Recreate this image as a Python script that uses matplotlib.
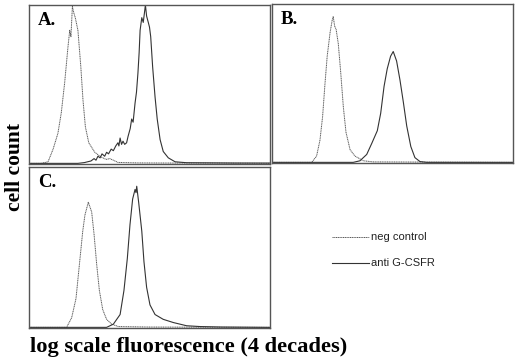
import matplotlib
matplotlib.use("Agg")
import matplotlib.pyplot as plt
from matplotlib.lines import Line2D

# histogram traces: x = % of axis width (log channel), y = fraction of panel height
a_neg_x = [0, 5.1, 7.9, 10.0, 12.0, 13.4, 14.8, 16.2, 16.9, 17.4, 18.0, 18.6, 19.2, 20.3, 21.5, 22.4,
           23.4, 24.8, 27.3, 29.9, 32.0, 33.5, 35.0, 36.9, 45, 60, 80, 100]
a_neg_y = [0, 0, 0.01, 0.09, 0.19, 0.32, 0.51, 0.74, 0.84, 0.80, 0.99, 0.95, 0.92, 0.84, 0.61, 0.40,
           0.23, 0.13, 0.07, 0.04, 0.025, 0.03, 0.02, 0.006, 0.003, 0.002, 0.002, 0.0]
a_anti_x = [0, 20.3, 23.0, 25.7, 27.0, 27.8, 28.6, 29.5, 30.3, 31.4, 32.2, 33.0, 34.1, 35.0, 36.0,
            36.9, 37.3, 37.8, 38.4, 39.0, 39.7, 40.5, 41.1, 42.0, 42.6, 43.2, 44.0, 44.6, 45.2, 45.7,
            46.1, 46.8, 47.4, 47.9, 48.3, 48.8, 49.5, 50.0, 50.5, 51.3, 52.3, 53.2, 54.4, 55.7, 57.8,
            60.6, 65.4, 75, 85, 100]
a_anti_y = [0, 0, 0.005, 0.015, 0.03, 0.02, 0.045, 0.035, 0.06, 0.045, 0.07, 0.06, 0.09, 0.08, 0.11,
            0.13, 0.11, 0.16, 0.12, 0.14, 0.12, 0.13, 0.17, 0.22, 0.28, 0.26, 0.38, 0.45, 0.57, 0.70,
            0.84, 0.92, 0.89, 0.95, 1.0, 0.93, 0.89, 0.86, 0.80, 0.61, 0.42, 0.28, 0.15, 0.075, 0.035,
            0.01, 0.004, 0.003, 0.002, 0.002]

b_neg_x = [0, 16.5, 18.5, 19.9, 21.0, 22.0, 22.9, 24.1, 25.0, 25.4, 26.0, 26.6, 27.5, 28.5, 29.6,
           30.7, 32.4, 34.4, 37.9, 42.0, 60, 100]
b_neg_y = [0, 0, 0.04, 0.14, 0.29, 0.50, 0.67, 0.82, 0.90, 0.92, 0.86, 0.84, 0.75, 0.57, 0.35,
           0.19, 0.08, 0.04, 0.01, 0.003, 0.002, 0.0]
b_anti_x = [0, 33.7, 36.5, 39.3, 41.4, 43.7, 45.1, 46.5, 47.8, 49.2, 50.3, 51.7, 53.1, 54.5, 55.9,
            57.6, 59.3, 61.4, 64.2, 100]
b_anti_y = [0, 0, 0.01, 0.05, 0.12, 0.20, 0.31, 0.48, 0.59, 0.67, 0.70, 0.64, 0.52, 0.38, 0.23,
            0.10, 0.03, 0.005, 0.0, 0.0]

c_neg_x = [0, 15.6, 17.7, 19.5, 20.9, 22.3, 23.2, 24.6, 26.0, 27.0, 28.1, 29.2, 30.6, 32.2, 34.3,
           37.1, 50, 100]
c_neg_y = [0, 0, 0.06, 0.18, 0.39, 0.60, 0.70, 0.78, 0.72, 0.58, 0.39, 0.23, 0.11, 0.05, 0.02,
           0.005, 0.002, 0.0]
c_anti_x = [0, 32.2, 35.0, 37.8, 39.4, 40.8, 41.9, 43.0, 44.0, 44.4, 44.7, 45.1, 45.5, 46.8, 47.7,
            48.8, 50.2, 52.3, 55.7, 59.9, 65.4, 71, 80, 100]
c_anti_y = [0, 0, 0.02, 0.08, 0.23, 0.43, 0.64, 0.80, 0.86, 0.84, 0.88, 0.83, 0.78, 0.60, 0.41,
            0.25, 0.14, 0.08, 0.05, 0.03, 0.01, 0.005, 0.002, 0.0]

panel_labels = ["A.", "B.", "C."]
legend_labels = ["neg control", "anti G-CSFR"]
xlabel = "log scale fluorescence (4 decades)"
ylabel = "cell count"

W, H = 520, 362
fig = plt.figure(figsize=(W / 100, H / 100), dpi=100, facecolor="w")

def px_axes(left, top, right, bottom):
    return fig.add_axes([left / W, 1 - bottom / H, (right - left) / W, (bottom - top) / H])

neg_style = dict(color="#5a5a5a", lw=0.7, ls=(0, (1.2, 0.6)))
anti_style = dict(color="#333333", lw=0.8, ls="-")
serif = ["Liberation Serif", "DejaVu Serif"]

axes = [px_axes(29, 5, 270, 164), px_axes(272, 4, 513, 163), px_axes(29, 167, 270, 328)]
traces = [(a_neg_x, a_neg_y, a_anti_x, a_anti_y),
          (b_neg_x, b_neg_y, b_anti_x, b_anti_y),
          (c_neg_x, c_neg_y, c_anti_x, c_anti_y)]

for ax, (nx, ny, tx, ty), lab in zip(axes, traces, panel_labels):
    ax.plot(nx, ny, **neg_style)
    ax.plot(tx, ty, **anti_style)
    ax.set_xlim(0, 100)
    ax.set_ylim(-0.004, 1.0)
    ax.set_xticks([])
    ax.set_yticks([])
    for s in ax.spines.values():
        s.set_color("#555555")
        s.set_linewidth(1.0)
    ax.text(0.037, 0.955, lab, transform=ax.transAxes, ha="left", va="top",
            fontsize=13.5, fontweight="bold", family=serif)

fig.text(30 / W, 1 - 352 / H, xlabel, ha="left", va="baseline",
         fontsize=16.2, fontweight="bold", family=serif)
fig.text(15 / W, 1 - 167 / H, ylabel, ha="center", va="center", rotation=90,
         fontsize=15.5, fontweight="bold", family=serif)

# legend drawn by hand, sitting in the empty lower-right corner
for lab, y, st in zip(legend_labels, [237, 263], [neg_style, anti_style]):
    fig.add_artist(Line2D([332 / W, 369 / W], [1 - y / H, 1 - y / H], transform=fig.transFigure, **st))
    fig.text(371 / W, 1 - y / H, lab, ha="left", va="center", fontsize=8,
             family=["Liberation Sans", "DejaVu Sans"], color="#222222")

fig.savefig("out.png", dpi=100)
